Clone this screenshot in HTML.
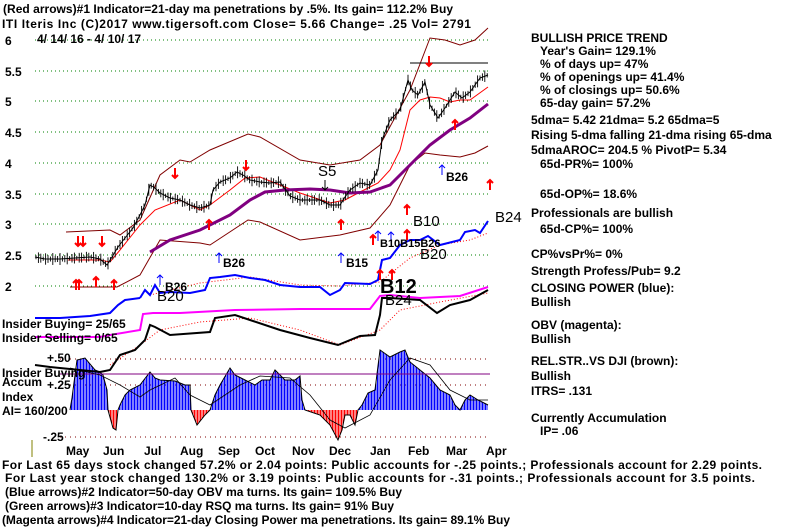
<!DOCTYPE html>
<html><head><meta charset="utf-8"><style>
html,body{margin:0;padding:0;background:#fff;width:800px;height:527px;overflow:hidden}
svg{display:block}
text{font-family:"Liberation Sans",sans-serif;font-weight:bold;font-size:12px;fill:#000}
.s{font-size:11px}
</style></head><body>
<svg id="c" width="800" height="527" viewBox="0 0 800 527" xmlns="http://www.w3.org/2000/svg">
<g stroke="#008000" stroke-dasharray="1,3" stroke-width="1">
<line x1="35" y1="40" x2="490" y2="40"/><line x1="35" y1="71" x2="490" y2="71"/>
<line x1="35" y1="101" x2="490" y2="101"/><line x1="35" y1="132" x2="490" y2="132"/>
<line x1="35" y1="163" x2="490" y2="163"/><line x1="35" y1="194" x2="490" y2="194"/>
<line x1="35" y1="224" x2="490" y2="224"/><line x1="35" y1="255" x2="490" y2="255"/>
<line x1="35" y1="286" x2="490" y2="286"/>
</g>
<g stroke="#800000" stroke-dasharray="1,4"><line x1="60" y1="359" x2="490" y2="359"/><line x1="60" y1="385" x2="490" y2="385"/><line x1="60" y1="437" x2="490" y2="437"/></g>
<g id="hist"></g>
<line x1="60" y1="374" x2="490" y2="374" stroke="#800080" stroke-width="1"/>
<polyline fill="none" stroke="#000" stroke-width="0.8" points="70,368 100,375 120,385 140,397 150,390 175,378 190,395 210,405 240,385 260,376 290,378 310,395 330,420 345,428 370,415 390,380 410,358 430,365 450,390 470,400 488,400"/>
<polyline fill="none" stroke="#800000" points="66,232 110,230 120,235 140,220 160,175 180,160 190,162 210,150 248,134 260,137 300,160 330,165 360,160 380,145 410,90 430,38 445,40 460,45 475,40 488,28"/>
<polyline fill="none" stroke="#800000" points="70,287 117,287 140,275 160,240 200,243 210,245 248,220 260,222 300,240 340,235 370,228 390,205 410,165 425,153 440,155 460,157 475,153 488,146"/>
<polyline fill="none" stroke="#ff0000" points="68,260 100,260 110,262 120,250 140,225 155,210 180,200 200,210 210,205 230,190 245,178 260,177 280,185 300,193 330,203 345,200 360,192 378,183 390,170 400,150 410,110 420,100 430,97 440,98 450,102 460,100 470,100 488,87"/>
<polyline fill="none" stroke="#800080" stroke-width="3" points="150,252 170,240 200,230 230,215 250,200 265,192 285,190 310,189 330,190 350,193 370,192 390,185 410,165 430,145 450,130 470,118 488,104"/>
<line x1="410" y1="63" x2="488" y2="63" stroke="#000"/>
<polyline id="price" fill="none" stroke="#000" stroke-width="1" points="35,257 45,259 60,259 75,258 90,257 100,259 107,265 112,257 118,247 125,238 133,228 140,215 145,205 150,185 155,188 160,193 170,198 180,200 190,205 200,208 210,205 213,190 220,182 230,178 237,172 243,175 250,180 260,182 270,183 280,182 290,196 300,200 310,200 320,200 330,205 340,205 345,197 350,190 360,183 370,185 378,170 382,140 390,120 400,110 408,80 412,90 418,95 425,82 430,105 438,118 445,108 455,92 462,98 470,92 480,78 488,75"/>
<g id="ticks" stroke="#000" stroke-width="0.9"></g>
<polyline fill="none" stroke="#ff0000" stroke-dasharray="1,2" points="150,295 200,283 250,277 300,285 340,286 380,282 410,258 440,245 470,240 488,233"/>
<polyline fill="none" stroke="#0000ff" stroke-width="2" points="140,298 145,290 150,295 155,285 160,293 170,292 190,293 205,290 210,278 220,277 235,275 250,278 265,280 280,285 300,287 320,287 330,295 340,290 345,283 370,284 378,280 382,260 390,258 400,245 410,240 420,240 428,236 440,245 460,240 465,232 475,230 480,233 488,221"/>
<polyline fill="none" stroke="#0000ff" stroke-width="2" points="35,318 60,318 90,316 110,313 118,305 125,300 140,298"/>
<polyline fill="none" stroke="#ff00ff" stroke-width="2" points="35,337 100,337 110,335 140,330 143,314 153,313 180,313 235,310 300,309 370,309 380,296 390,295 420,298 440,297 460,296 488,287"/>
<polyline fill="none" stroke="#ff0000" stroke-dasharray="1,2" points="110,365 140,345 160,330 200,322 250,318 300,330 340,345 380,330 400,310 440,302 488,293"/>
<polyline fill="none" stroke="#000" stroke-width="2" points="35,365 50,367 80,370 100,372 110,370 120,355 135,350 145,340 150,325 155,327 170,335 210,332 215,318 235,315 250,320 280,330 310,338 338,345 360,336 375,335 380,315 382,298 390,298 420,300 437,313 450,305 470,300 488,290"/>
<g id="arr"></g>
<text x="5" y="45">6</text><text x="5" y="76">5.5</text><text x="5" y="106">5</text><text x="5" y="137">4.5</text><text x="5" y="168">4</text><text x="5" y="199">3.5</text><text x="5" y="229">3</text><text x="5" y="260">2.5</text><text x="5" y="291">2</text>
<text x="37" y="43">4/ 14/ 16 - 4/ 10/ 17</text>
<text x="3" y="13" textLength="450">(Red arrows)#1 Indicator=21-day ma penetrations by .5%. Its gain= 112.2% Buy</text>
<text x="2" y="28" textLength="469">ITI   Iteris Inc   (C)2017 www.tigersoft.com     Close=  5.66  Change= .25 Vol= 2791</text>
<g>
<text x="318" y="176" style="font-size:15px;font-weight:normal">S5</text>
<text x="413" y="226" style="font-size:15px;font-weight:normal">B10</text>
<text x="495" y="222" style="font-size:15px;font-weight:normal">B24</text>
<text x="420" y="259" style="font-size:15px;font-weight:normal">B20</text>
<text x="157" y="301" style="font-size:15px;font-weight:normal">B20</text>
<text x="385" y="305" style="font-size:15px;font-weight:normal">B24</text>
<text x="380" y="293" style="font-size:20px">B12</text>
</g>
<text x="446" y="181">B26</text><text x="223" y="267">B26</text><text x="346" y="267">B15</text><text x="165" y="291">B26</text>
<text x="380" y="247" class="s">B10B15B26</text>
<text x="2" y="328">Insider Buying= 25/65</text>
<text x="2" y="342">Insider Selling= 0/65</text>
<text x="47" y="362">+.50</text>
<text x="2" y="377">Insider Buying</text>
<text x="2" y="386">Accum</text>
<text x="47" y="389">+.25</text>
<text x="2" y="401">Index</text>
<text x="2" y="415">AI= 160/200</text>
<text x="43" y="441">-.25</text>
<line x1="32" y1="440" x2="32" y2="457" stroke="#808000"/>
<g><text x="66" y="455">May</text><text x="103" y="455">Jun</text><text x="144" y="455">Jul</text><text x="180" y="455">Aug</text><text x="218" y="455">Sep</text><text x="255" y="455">Oct</text><text x="292" y="455">Nov</text><text x="329" y="455">Dec</text><text x="370" y="455">Jan</text><text x="408" y="455">Feb</text><text x="446" y="455">Mar</text><text x="486" y="455">Apr</text></g>
<text x="2" y="469" textLength="760">For Last 65 days stock changed  57.2% or  2.04 points:  Public accounts for -.25 points.;  Professionals account for  2.29 points.</text>
<text x="5" y="482" textLength="750">For Last year stock changed  130.2% or  3.19 points:  Public accounts for -.31 points.;  Professionals account for  3.5 points.</text>
<text x="5" y="496" textLength="397">(Blue arrows)#2 Indicator=50-day OBV ma turns. Its gain= 109.5% Buy</text>
<text x="5" y="510" textLength="389">(Green arrows)#3 Indicator=10-day RSQ ma turns. Its gain= 91% Buy</text>
<text x="2" y="524" textLength="508">(Magenta arrows)#4 Indicator=21-day Closing Power ma penetrations. Its gain= 89.1% Buy</text>
<g>
<text x="531" y="42">BULLISH PRICE TREND</text>
<text x="540" y="55">Year's Gain= 129.1%</text>
<text x="540" y="68">% of days up= 47%</text>
<text x="540" y="81">% of openings up= 41.4%</text>
<text x="540" y="94">% of closings up= 50.6%</text>
<text x="540" y="107">65-day gain= 57.2%</text>
<text x="531" y="124">5dma= 5.42 21dma= 5.2 65dma=5</text>
<text x="531" y="139">Rising 5-dma falling 21-dma rising 65-dma</text>
<text x="531" y="154">5dmaAROC= 204.5 %  PivotP= 5.34</text>
<text x="540" y="168">65d-PR%= 100%</text>
<text x="540" y="198">65d-OP%= 18.6%</text>
<text x="531" y="217">Professionals are bullish</text>
<text x="540" y="233">65d-CP%= 100%</text>
<text x="531" y="258">CP%vsPr%=  0%</text>
<text x="531" y="275">Strength Profess/Pub= 9.2</text>
<text x="531" y="292">CLOSING POWER (blue):</text>
<text x="531" y="306">Bullish</text>
<text x="531" y="329">OBV (magenta):</text>
<text x="531" y="343">Bullish</text>
<text x="531" y="365">REL.STR..VS DJI (brown):</text>
<text x="531" y="380">Bullish</text>
<text x="531" y="395">ITRS= .131</text>
<text x="531" y="422">Currently Accumulation</text>
<text x="540" y="435">IP=  .06</text>
</g>
</svg>
<script>
var NS="http://www.w3.org/2000/svg";
function interp(pts,x){for(var i=0;i<pts.length-1;i++){if(x>=pts[i][0]&&x<=pts[i+1][0]){var t=(x-pts[i][0])/(pts[i+1][0]-pts[i][0]||1);return pts[i][1]+t*(pts[i+1][1]-pts[i][1]);}}return null;}
var acc=[[70,410],[72,398],[77,360],[85,358],[95,370],[100,372],[103,375],[107,390],[108,410],[113,428],[116,430],[118,410],[120,405],[125,395],[130,390],[140,385],[150,372],[155,378],[160,380],[175,381],[185,385],[190,385],[191,410],[197,425],[205,415],[210,410],[215,395],[220,385],[230,368],[235,375],[245,380],[255,385],[262,380],[270,380],[275,370],[285,380],[295,380],[300,376],[302,400],[305,410],[320,415],[330,425],[338,440],[342,430],[345,415],[350,415],[355,425],[358,410],[362,405],[368,393],[375,390],[380,350],[390,357],[400,352],[405,350],[410,362],[420,370],[430,378],[440,390],[450,395],[455,405],[460,410],[465,400],[470,395],[478,400],[488,405]];
var h=document.getElementById('hist');
for(var x=70;x<=488;x+=1.5){var y=interp(acc,x);if(y==null)continue;var l=document.createElementNS(NS,'line');l.setAttribute('x1',x);l.setAttribute('x2',x);l.setAttribute('y1',410);l.setAttribute('y2',y);l.setAttribute('stroke',y>410?'#ff0000':'#0000ff');l.setAttribute('stroke-width','1');h.appendChild(l);}
var pl=document.createElementNS(NS,'polyline');pl.setAttribute('points',acc.map(function(p){return p.join(',')}).join(' '));pl.setAttribute('fill','none');pl.setAttribute('stroke','#000');h.appendChild(pl);
var pr=document.getElementById('price').getAttribute('points').trim().split(/\s+/).map(function(s){return s.split(',').map(Number)});
var tk=document.getElementById('ticks');
for(var x=36;x<=488;x+=2.4){var y=interp(pr,x);if(y==null)continue;var r=Math.sin(x*1.7)*2+4;var l=document.createElementNS(NS,'line');l.setAttribute('x1',x);l.setAttribute('x2',x);l.setAttribute('y1',y-r);l.setAttribute('y2',y+r);tk.appendChild(l);}
var ar=document.getElementById('arr');
function arrow(x,y,up,col){var w=col=='#ff0000'?2:1;var len=10;var y2=up?y-len:y+len;var l=document.createElementNS(NS,'line');l.setAttribute('x1',x);l.setAttribute('x2',x);l.setAttribute('y1',y);l.setAttribute('y2',y2);l.setAttribute('stroke',col);l.setAttribute('stroke-width',w);var p=document.createElementNS(NS,'polyline');var d=up?3:-3;p.setAttribute('points',(x-3)+','+(y2+d)+' '+x+','+y2+' '+(x+3)+','+(y2+d));p.setAttribute('fill','none');p.setAttribute('stroke',col);p.setAttribute('stroke-width',w);ar.appendChild(l);ar.appendChild(p);}
[[78,236],[83,236],[102,236],[175,168],[246,160],[429,56]].forEach(function(a){arrow(a[0],a[1],false,'#ff0000')});
[[76,290],[79,290],[96,287],[114,290],[209,230],[341,230],[373,245],[407,215],[407,240],[455,130],[490,190],[380,280],[392,280]].forEach(function(a){arrow(a[0],a[1],true,'#ff0000')});
[[160,285],[219,263],[341,263],[442,175],[391,242],[378,241]].forEach(function(a){arrow(a[0],a[1],true,'#0000ff')});
arrow(325,180,false,'#000');
</script>
</body></html>
